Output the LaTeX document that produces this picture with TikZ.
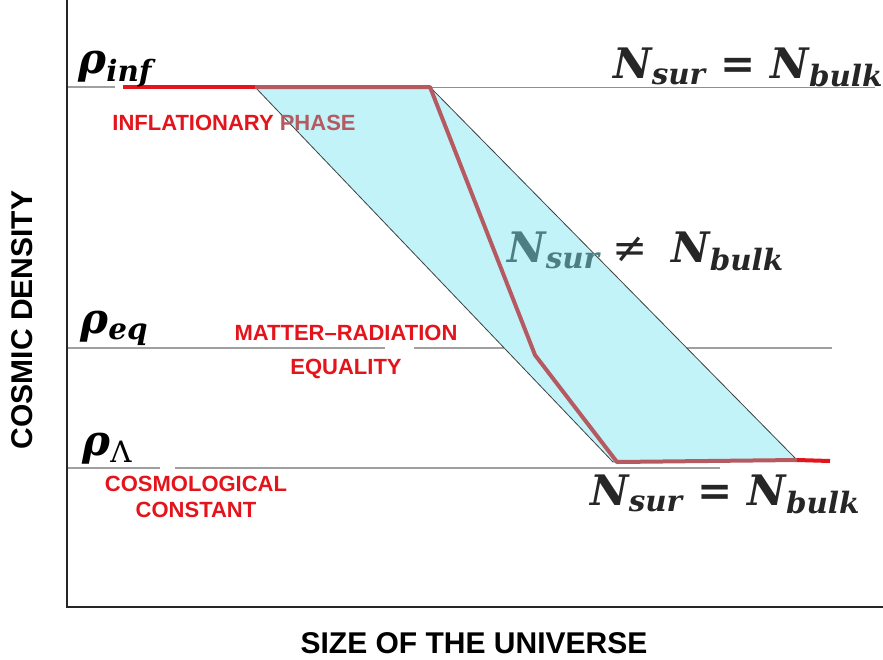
\documentclass[tikz,border=0pt]{standalone}
\usepackage{amsmath}
\usepackage{fontspec}
\setmainfont{Liberation Sans}
\newfontfamily\eqfont{DejaVu Serif}
\usetikzlibrary{positioning}
\definecolor{inflred}{HTML}{E3141B}
\definecolor{pathbrown}{HTML}{B65A62}
\definecolor{bandcyan}{HTML}{C2F3F8}
\definecolor{surteal}{HTML}{4D7E84}
\definecolor{levelgray}{HTML}{A0A0A0}
\definecolor{infteal}{HTML}{6E9CA6}
\newcommand{\sbs}[1]{$_{\text{#1}}$}

\begin{document}
\begin{tikzpicture}[x=0.5pt,y=-0.5pt,
level/.style={levelgray,line width=0.6pt},
axis/.style={black!85,line width=1.1pt},
redseg/.style={inflred,line width=2pt},
edge/.style={black!75,line width=0.4pt},
era/.style={inflred,font=\bfseries\fontsize{11}{13}\selectfont,align=center,inner sep=0pt},
rho/.style={font=\eqfont\bfseries\itshape\fontsize{21}{24}\selectfont,anchor=base west,inner sep=0pt},
count/.style={rho,text=black!85},
axlabel/.style={font=\bfseries\fontsize{15}{18}\selectfont,inner sep=0pt}]
\useasboundingbox (0,0) rectangle (883,659);
% band corners and path kinks
\coordinate (tl) at (255,87); \coordinate (tr) at (430,87);
\coordinate (br) at (797,460); \coordinate (bl) at (613,462);
\coordinate (kink) at (535,355); \coordinate (low) at (617,462);
\coordinate (o) at (67,607); \coordinate (ytop) at (67,0); \coordinate (xend) at (883,607);
% density levels
\draw[level] (67,87) -- (115,87);
\draw[infteal,line width=0.5pt] (tr) -- (875,87);
\draw[level] (67,348) -- (385,348); \draw[level] (414,348) -- (832,348);
\draw[level] (67,468) -- (160,468); \draw[level] (175,468) -- (720,468);
% band
\fill[bandcyan] (tl) -- (tr) -- (br) -- (bl) -- cycle;
\draw[edge] (tl) -- (bl) -- (br) -- (tr);
\draw[pathbrown,line width=2pt,line join=round] (tl) -- (tr) -- (kink) -- (low) -- (br);
\draw[redseg] (123,87) -- (tl); \draw[redseg] (br) -- (830,461);
\draw[axis] (ytop) -- (o) -- (xend);
% labels
\node[rho] (rhoinf) at (78,73) {ρ\sbs{inf}};
\node[rho] (rhoeq) at (80,333) {ρ\sbs{eq}};
\node[rho] (rholam) at (82,455) {ρ\sbs{\upshape\mdseries Λ}};
\node[count] (topeq) at (613,78) {N\sbs{sur} = N\sbs{bulk}};
\node[count] (midneq) at (507,262) {\textcolor{surteal}{N\sbs{sur}}\hspace{6pt}{\upshape\mdseries ≠}\hspace{12pt}N\sbs{bulk}};
\node[count] (loweq) at (590,505) {N\sbs{sur} = N\sbs{bulk}};
\node[era] (inflation) at (234,123) {INFLATIONARY \textcolor{pathbrown}{PHASE}};
\node[era] (equality) at (346,352) {MATTER–RADIATION\\[4pt]EQUALITY};
\node[era] (cosmo) at (196,497) {COSMOLOGICAL\\CONSTANT};
\node[axlabel,rotate=90] (ylabel) at (22,320) {COSMIC DENSITY};
\node[axlabel] (xlabel) at (474,643) {SIZE OF THE UNIVERSE};
\end{tikzpicture}
\end{document}
